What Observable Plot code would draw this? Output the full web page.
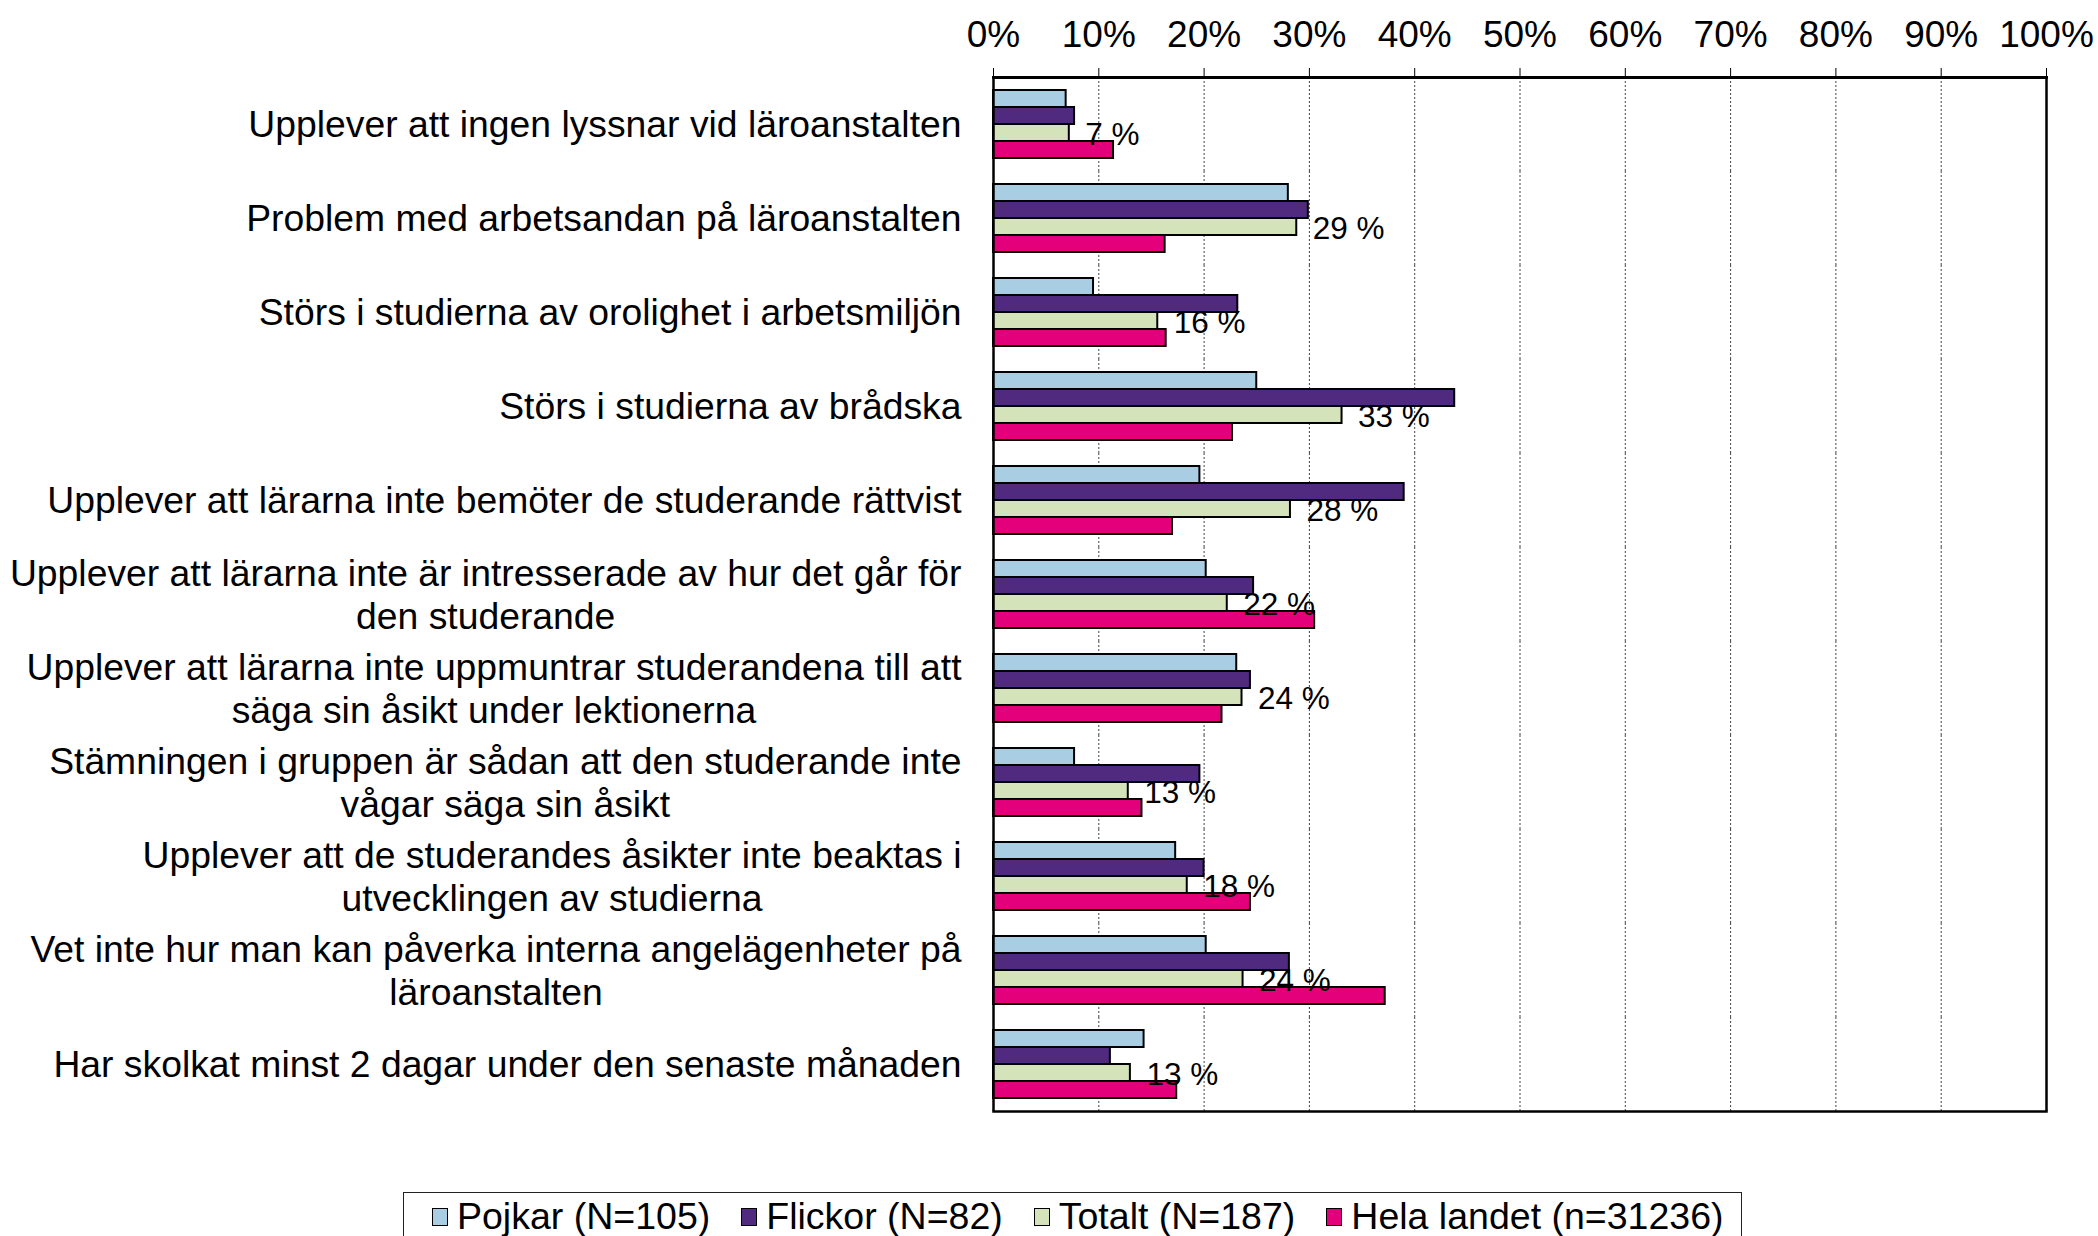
<!DOCTYPE html>
<html>
<head>
<meta charset="utf-8">
<script src="https://cdn.jsdelivr.net/npm/d3@7"></script>
<script src="https://cdn.jsdelivr.net/npm/@observablehq/plot@0.6"></script>
<style>
  html, body { margin: 0; padding: 0; background: white; }
  body { width: 2098px; height: 1236px; overflow: hidden; font-family: "Liberation Sans", Arial, sans-serif; }
  #legend {
    box-sizing: border-box;
    margin-left: 403px; margin-top: 7px;
    width: 1339px; height: 80px;
    border: 1.5px solid #222;
    display: flex; align-items: flex-start;
    padding-left: 28px; padding-top: 1px;
    font-size: 37.5px; line-height: 44px; color: black;
  }
  #legend .item { display: flex; align-items: center; margin-right: 31px; white-space: nowrap; }
  #legend .sw { box-sizing: border-box; width: 16px; height: 18px; border: 1.5px solid black; margin-right: 9px; margin-top: 2px; }
</style>
</head>
<body>
<div id="chart"></div>
<div id="legend"></div>
<script>
const categories = [
  "Upplever att ingen lyssnar vid läroanstalten",
  "Problem med arbetsandan på läroanstalten",
  "Störs i studierna av orolighet i arbetsmiljön",
  "Störs i studierna av brådska",
  "Upplever att lärarna inte bemöter de studerande rättvist",
  "Upplever att lärarna inte är intresserade av hur det går för\nden studerande",
  "Upplever att lärarna inte uppmuntrar studerandena till att\nsäga sin åsikt under lektionerna",
  "Stämningen i gruppen är sådan att den studerande inte\nvågar säga sin åsikt",
  "Upplever att de studerandes åsikter inte beaktas i\nutvecklingen av studierna",
  "Vet inte hur man kan påverka interna angelägenheter på\nläroanstalten",
  "Har skolkat minst 2 dagar under den senaste månaden"
];
const seriesNames = ["Pojkar (N=105)", "Flickor (N=82)", "Totalt (N=187)", "Hela landet (n=31236)"];
const seriesColors = ["#A9CEE4", "#4F2A7E", "#D5E3BB", "#E4007A"];

const pojkar  = [6.9, 28.0, 9.5, 25.0, 19.6, 20.2, 23.1, 7.7, 17.3, 20.2, 14.3];
const flickor = [7.7, 29.9, 23.2, 43.8, 39.0, 24.7, 24.4, 19.6, 20.0, 28.1, 11.1];
const totalt  = [7.2, 28.8, 15.6, 33.1, 28.2, 22.2, 23.6, 12.8, 18.4, 23.7, 13.0];
const hela    = [11.4, 16.3, 16.4, 22.7, 17.0, 30.5, 21.7, 14.1, 24.4, 37.2, 17.4];

const tickValues = [0, 10, 20, 30, 40, 50, 60, 70, 80, 90, 100];
const gridValues = [10, 20, 30, 40, 50, 60, 70, 80, 90];

const seriesValues = [pojkar, flickor, totalt, hela];
const rows = categories.flatMap((c, i) =>
  seriesNames.map((s, k) => ({cat: c, series: s, value: seriesValues[k][i]})));
const labelRows = categories.map((c, i) => ({cat: c, series: seriesNames[2], value: totalt[i]}));

const font = "'Liberation Sans', Arial, sans-serif";

const chart = Plot.plot({
  width: 2098,
  height: 1185,
  marginTop: 75,
  marginBottom: 72,
  marginLeft: 993,
  marginRight: 52,
  style: {fontFamily: font, fontSize: "37px", color: "black", background: "white"},
  x: {domain: [0, 100]},
  y: {domain: seriesNames, paddingInner: 0, paddingOuter: 0.62, axis: null},
  fy: {domain: categories, padding: 0, axis: null},
  color: {domain: seriesNames, range: seriesColors},
  marks: [
    Plot.ruleX(gridValues, {stroke: "#444", strokeWidth: 1, strokeDasharray: "2,2"}),
    Plot.barX(rows, {fy: "cat", y: "series", x: "value", fill: "series", stroke: "black", strokeWidth: 2}),
    Plot.text(labelRows, {
      fy: "cat", y: "series", x: "value",
      text: d => Math.round(d.value) + " %",
      dx: 16, dy: 2, textAnchor: "start", fontSize: 31.5, fill: "black"
    }),
    Plot.text(categories, {
      fy: d => d, x: () => 0, text: d => d,
      dx: -32, dy: -1, textAnchor: "end", lineAnchor: "middle", lineHeight: 1.15,
      fontSize: 37.3, fill: "black"
    }),
    Plot.ruleX([0, 100], {stroke: "black", strokeWidth: 2.5}),
    Plot.frame({anchor: "top", fy: categories[0], stroke: "black", strokeWidth: 3}),
    Plot.frame({anchor: "bottom", fy: categories[categories.length - 1], stroke: "black", strokeWidth: 2.5}),
    Plot.axisX({
      anchor: "top", ticks: tickValues, tickFormat: d => d + "%",
      tickSize: 10, tickPadding: 21, fontSize: 37, label: null, stroke: "black"
    })
  ]
});

document.getElementById("chart").append(chart);

// Center wrapped (multi-line) category labels as blocks whose right edge sits at the anchor.
chart.querySelectorAll("text").forEach(t => {
  const spans = t.querySelectorAll("tspan");
  if (spans.length < 2) return;
  const w = Math.max(...Array.from(spans, s => s.getComputedTextLength()));
  t.setAttribute("text-anchor", "middle");
  t.style.textAnchor = "middle";
  spans.forEach(s => s.setAttribute("x", -w / 2));
});

// Legend
const legend = document.getElementById("legend");
seriesNames.forEach((name, k) => {
  const item = document.createElement("span");
  item.className = "item";
  const sw = document.createElement("span");
  sw.className = "sw";
  sw.style.background = seriesColors[k];
  item.append(sw, document.createTextNode(name));
  legend.append(item);
});
</script>
</body>
</html>
